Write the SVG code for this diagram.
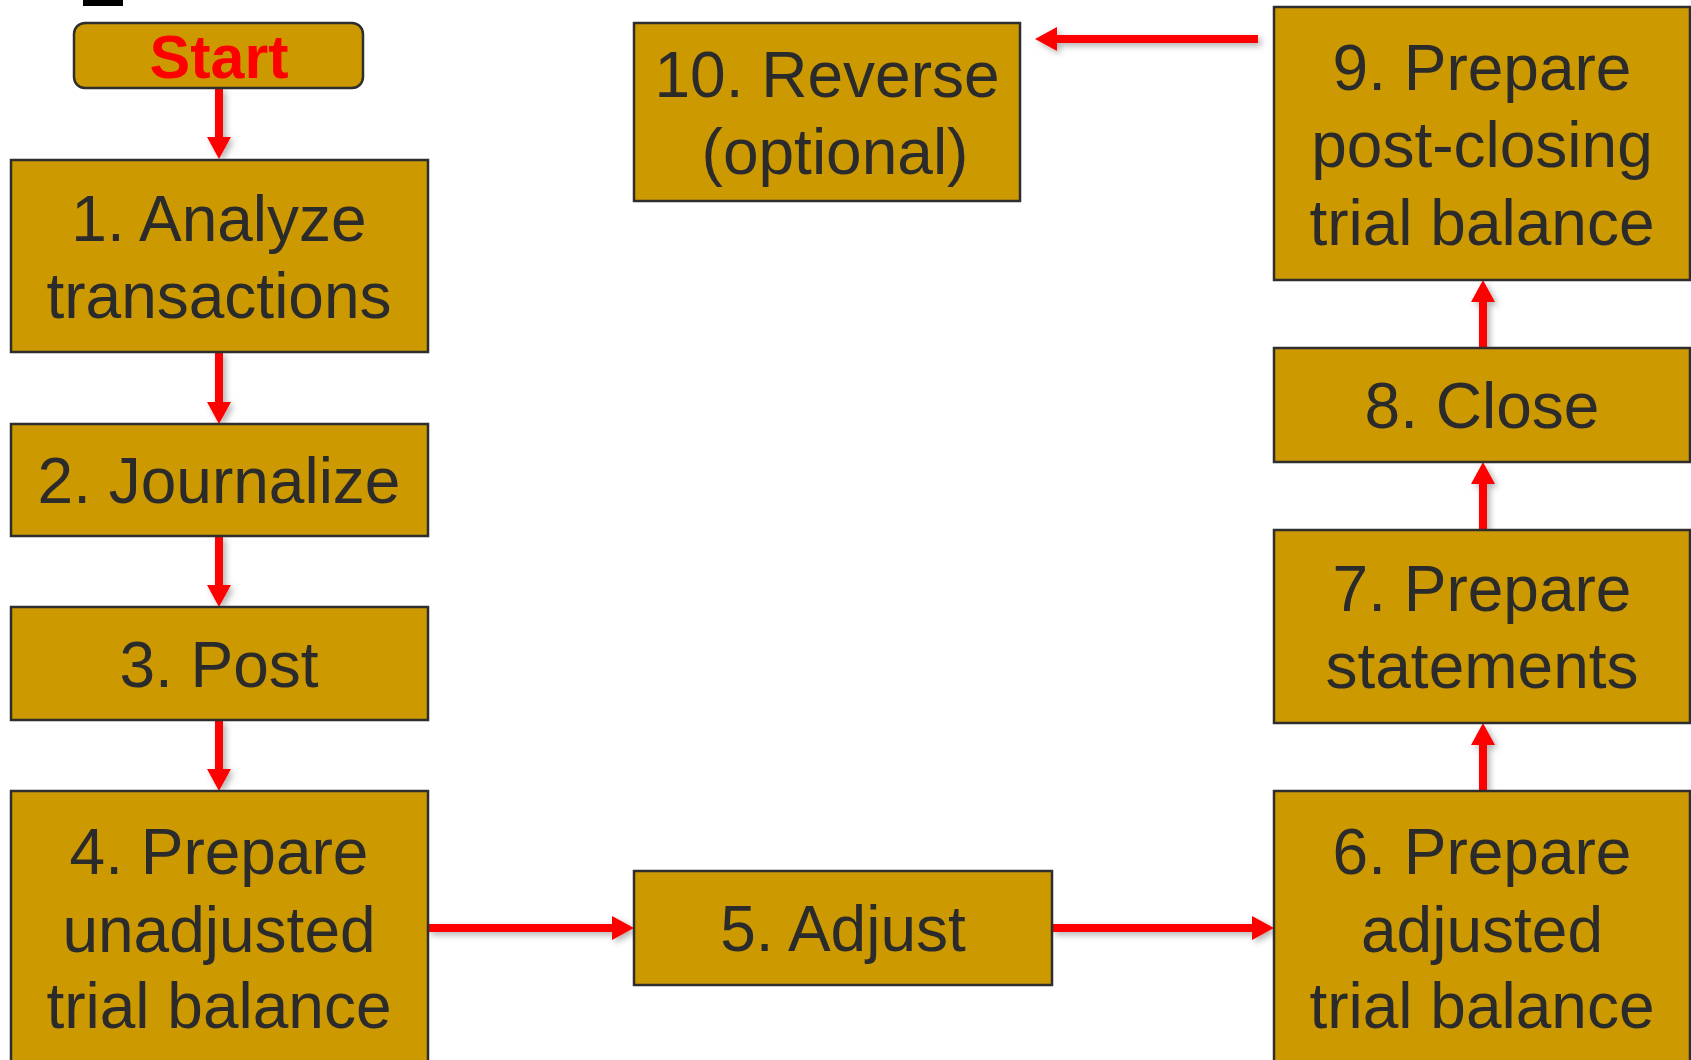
<svg xmlns="http://www.w3.org/2000/svg" width="1691" height="1060" viewBox="0 0 1691 1060">
<style>
.box{fill:#CC9900;stroke:#2e2e2e;stroke-width:2.5}
.t{font-family:"Liberation Sans",Arial,sans-serif;font-size:64px;fill:#2b2b2b;text-anchor:middle}
.st{font-family:"Liberation Sans",Arial,sans-serif;font-size:61px;font-weight:bold;fill:#ff0000;text-anchor:middle}
.c{fill:none;stroke:#ff0000;stroke-width:8;marker-end:url(#ah)}
</style>
<defs>
<marker id="ah" markerUnits="userSpaceOnUse" viewBox="0 0 22 24" refX="2" refY="12" markerWidth="22" markerHeight="24" orient="auto">
<path d="M0,0 L22,12 L0,24 z" fill="#ff0000"/>
</marker>
<filter id="sh" x="-20%" y="-20%" width="140%" height="140%">
<feDropShadow dx="3" dy="3" stdDeviation="3" flood-color="#000" flood-opacity="0.3"/>
</filter>
</defs>
<rect x="0" y="0" width="1691" height="1060" fill="#ffffff"/>
<rect x="83" y="0" width="40" height="6" fill="#000"/>
<g id="connectors" filter="url(#sh)">
<path class="c" d="M219,88 V139"/>
<path class="c" d="M219,352 V404"/>
<path class="c" d="M219,536 V587"/>
<path class="c" d="M219,720 V771"/>
<path class="c" d="M428,928 H614"/>
<path class="c" d="M1052,928 H1254"/>
<path class="c" d="M1483,791 V743"/>
<path class="c" d="M1483,530 V482"/>
<path class="c" d="M1483,348 V300"/>
<path class="c" d="M1258,39 H1055"/>
</g>
<g id="start">
<rect class="box" x="74" y="23" width="289" height="65" rx="11"/>
<text class="st" x="219" y="78">Start</text>
</g>
<g id="n1">
<rect class="box" x="11" y="160" width="417" height="192"/>
<text class="t" x="219" y="241">1. Analyze</text>
<text class="t" x="219" y="318">transactions</text>
</g>
<g id="n2">
<rect class="box" x="11" y="424" width="417" height="112"/>
<text class="t" x="219" y="503">2. Journalize</text>
</g>
<g id="n3">
<rect class="box" x="11" y="607" width="417" height="113"/>
<text class="t" x="219" y="687">3. Post</text>
</g>
<g id="n4">
<rect class="box" x="11" y="791" width="417" height="280"/>
<text class="t" x="219" y="874">4. Prepare</text>
<text class="t" x="219" y="952">unadjusted</text>
<text class="t" x="219" y="1028">trial balance</text>
</g>
<g id="n5">
<rect class="box" x="634" y="871" width="418" height="114"/>
<text class="t" x="843" y="951">5. Adjust</text>
</g>
<g id="n6">
<rect class="box" x="1274" y="791" width="416" height="280"/>
<text class="t" x="1482" y="874">6. Prepare</text>
<text class="t" x="1482" y="952">adjusted</text>
<text class="t" x="1482" y="1028">trial balance</text>
</g>
<g id="n7">
<rect class="box" x="1274" y="530" width="416" height="193"/>
<text class="t" x="1482" y="611">7. Prepare</text>
<text class="t" x="1482" y="688">statements</text>
</g>
<g id="n8">
<rect class="box" x="1274" y="348" width="416" height="114"/>
<text class="t" x="1482" y="428">8. Close</text>
</g>
<g id="n9">
<rect class="box" x="1274" y="7" width="416" height="273"/>
<text class="t" x="1482" y="90">9. Prepare</text>
<text class="t" x="1482" y="167">post-closing</text>
<text class="t" x="1482" y="245">trial balance</text>
</g>
<g id="n10">
<rect class="box" x="634" y="23" width="386" height="178"/>
<text class="t" x="827" y="97">10. Reverse</text>
<text class="t" x="835" y="174">(optional)</text>
</g>
</svg>
